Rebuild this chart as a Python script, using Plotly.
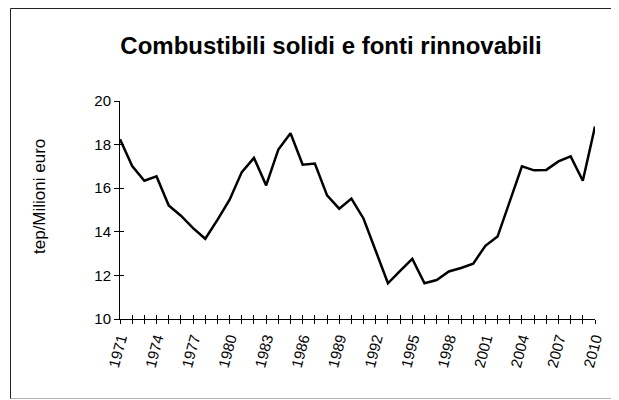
import plotly.graph_objects as go

years = list(range(1971, 2011))
values = [18.25, 17.02, 16.34, 16.54, 15.21, 14.74, 14.17, 13.68, 14.55, 15.47,
          16.74, 17.39, 16.13, 17.77, 18.52, 17.08, 17.13, 15.67, 15.06, 15.52,
          14.60, 13.09, 11.64, 12.21, 12.76, 11.64, 11.79, 12.18, 12.34, 12.54,
          13.36, 13.78, 15.39, 17.00, 16.82, 16.84, 17.23, 17.46, 16.34, 18.83]

title_text = "Combustibili solidi e fonti rinnovabili"
y_title = "tep/Milioni euro"
label_years = list(range(1971, 2011, 3)) + [2010]
tick_text = [str(y) if y in label_years else "" for y in years]
y_ticks = [10, 12, 14, 16, 18, 20]

FONT = "Liberation Sans, Arial, sans-serif"

# plot area in figure pixels (page is offset by the 8px body margin)
L, T, W, H = 112, 93, 475, 218
FW, FH = 611, 392

def px(xp):
    return (xp - L) / W

def py(yp):
    return 1 - (yp - T) / H

fig = go.Figure()
fig.add_trace(go.Scatter(x=years, y=values, mode="lines",
                         line=dict(color="black", width=2.5),
                         showlegend=False, hoverinfo="skip"))
# invisible trace to anchor overlay axes (for crossing tick marks)
fig.add_trace(go.Scatter(x=[years[0]], y=[values[0]], xaxis="x2", yaxis="y2",
                         mode="markers", marker=dict(opacity=0),
                         showlegend=False, hoverinfo="skip"))

common_x = dict(range=[1971, 2010], tickvals=years, showgrid=False,
                zeroline=False, linecolor="black", linewidth=1,
                tickcolor="black", tickwidth=1, ticklen=4)

def frame_line(x0, y0, x1, y1, color):
    return dict(type="line", xref="paper", yref="paper",
                x0=px(x0), y0=py(y0), x1=px(x1), y1=py(y1),
                line=dict(color=color, width=1), layer="below")

fig.update_layout(
    width=FW, height=FH,
    margin=dict(l=L, r=FW - L - W, t=T, b=FH - T - H),
    paper_bgcolor="white", plot_bgcolor="white",
    font=dict(family=FONT, color="black", size=15),
    xaxis=dict(**common_x, ticks="outside", ticktext=tick_text,
               tickangle=-75, tickfont=dict(size=15)),
    xaxis2=dict(**common_x, ticks="inside", overlaying="x",
                showticklabels=False, showline=False),
    yaxis=dict(range=[10, 20], tickvals=y_ticks, ticks="outside", ticklen=5,
               tickcolor="black", linecolor="black", linewidth=1,
               showgrid=False, zeroline=False, tickfont=dict(size=15)),
    yaxis2=dict(range=[10, 20], tickvals=y_ticks, ticks="inside", ticklen=4,
                tickcolor="black", overlaying="y", showticklabels=False,
                showline=False, showgrid=False, zeroline=False),
    title=dict(text="<b>" + title_text + "</b>", x=323 / FW, xref="container",
               xanchor="center", y=1 - 38 / FH, yref="container",
               yanchor="middle", font=dict(size=24, family=FONT)),
    annotations=[dict(text=y_title, xref="paper", yref="paper",
                      x=px(31), y=py(189), textangle=-90,
                      showarrow=False, xanchor="center", yanchor="middle",
                      font=dict(size=17, family=FONT))],
    shapes=[
        frame_line(2.5, 0.5, 606, 0.5, "#222222"),
        frame_line(2.5, 0.5, 2.5, 391, "#222222"),
        frame_line(2.5, 390.5, 611, 390.5, "#b0b0b0"),
    ],
)

fig.write_html("out.html")
